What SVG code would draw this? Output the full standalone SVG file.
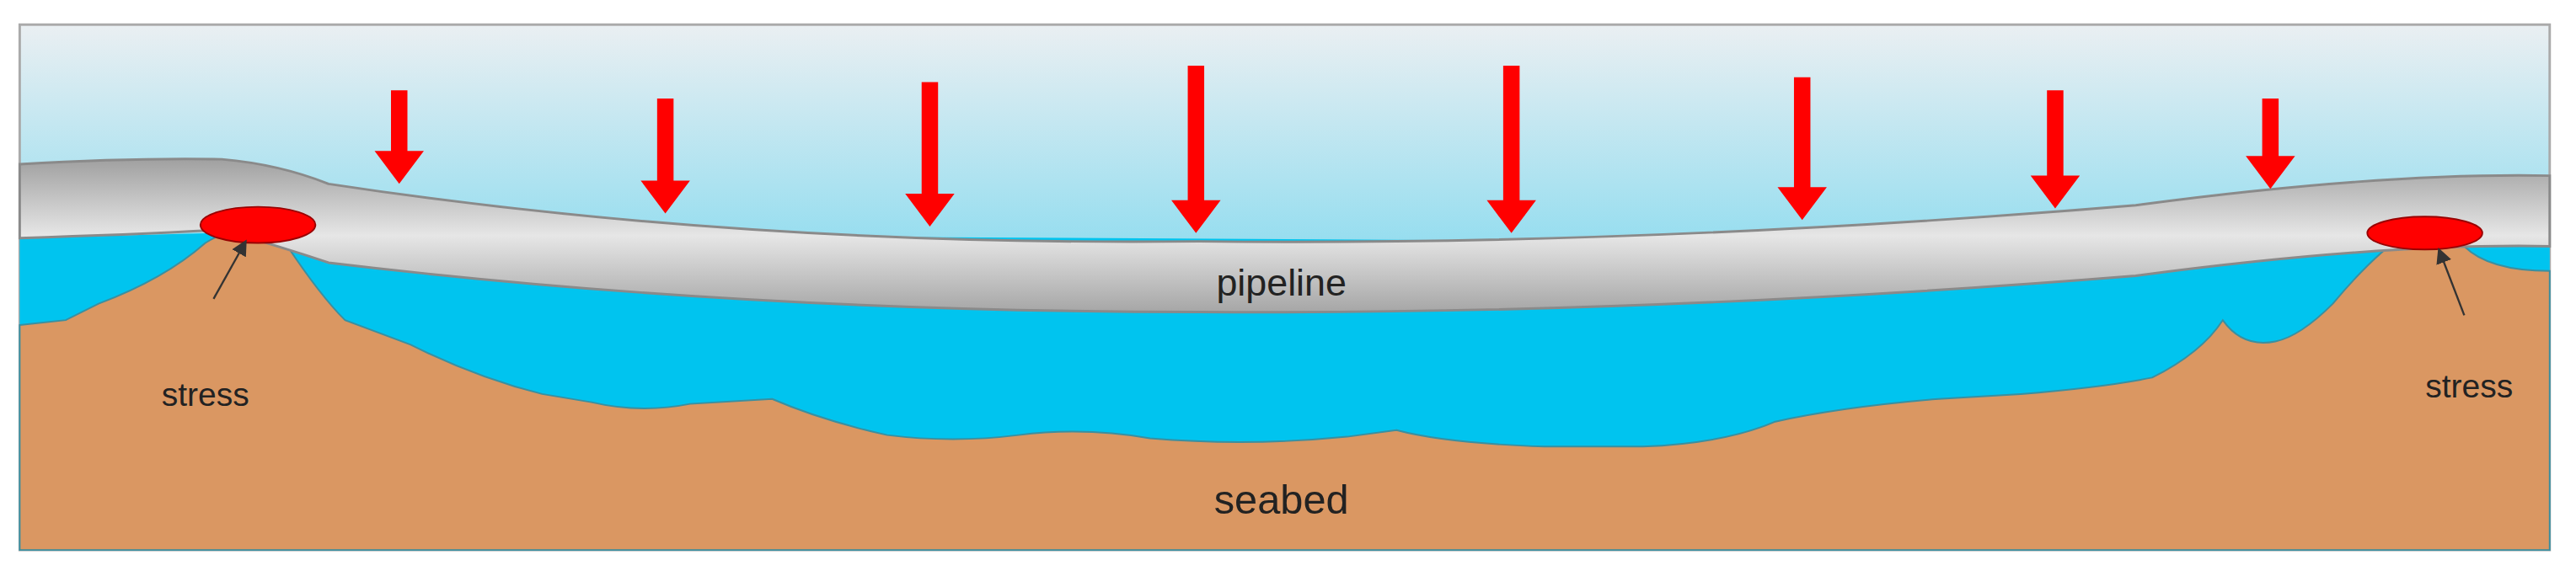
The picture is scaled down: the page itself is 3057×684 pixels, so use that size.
<svg xmlns="http://www.w3.org/2000/svg" width="3057" height="684" viewBox="0 0 3057 684">
<defs>
<linearGradient id="sky" x1="0" y1="0" x2="0" y2="1"><stop offset="0" stop-color="#eaeff2"/><stop offset="0.45" stop-color="#8fdcef"/><stop offset="1" stop-color="#00c3ee"/></linearGradient>
<linearGradient id="pipe" x1="0" y1="0" x2="0" y2="1"><stop offset="0" stop-color="#a0a0a0"/><stop offset="0.5" stop-color="#e6e6e6"/><stop offset="1" stop-color="#a6a6a6"/></linearGradient>
<style>.arr{fill:#f00}.lbl{font-family:"Liberation Sans",Arial,sans-serif;fill:#222;text-anchor:middle}</style>
<marker id="ah" markerWidth="8" markerHeight="8" refX="6" refY="4" orient="auto" markerUnits="strokeWidth"><path d="M0,0 L8,4 L0,8 z" fill="#333"/></marker>
</defs>
<rect width="3057" height="684" fill="#fff"/>
<g transform="scale(1.9496)">
<rect x="12" y="15" width="1540" height="320" fill="url(#sky)" stroke="#aaa" stroke-width="1.5"/>
<path d="M12,145 L130,142 L1552,150 L1552,330 L12,330 z" fill="#00c4ef"/>
<path id="seabed" d="M12,198 L40,195 L60,185 Q100,170 125,148 Q150,132 175,150 Q195,180 210,195 L250,210 Q290,230 330,240 L360,245 Q390,252 420,246 L470,243 Q500,256 540,265 Q580,270 620,265 Q660,260 700,267 Q760,272 820,266 L850,262 Q880,270 940,272 L1000,272 Q1050,270 1080,257 Q1120,248 1180,243 L1230,240 Q1280,236 1310,230 Q1340,215 1353,195 Q1365,212 1385,208 Q1400,205 1420,185 Q1445,155 1465,142 Q1485,136 1500,150 Q1515,165 1552,165 L1552,335 L12,335 z" fill="#da9762" stroke="#3a8fa0" stroke-width="1"/>
<path id="pipeline" d="M12,100 Q80,96 135,97 Q170,100 200,112 Q450,150 730,147 Q1000,150 1300,125 Q1450,105 1552,107 L1552,150 Q1450,148 1300,168 Q1000,192 730,190 Q450,190 200,160 Q170,150 135,140 Q80,143 12,145 z" fill="url(#pipe)" stroke="#8a8a8a" stroke-width="1.5"/>
<g id="arrows">
<path class="arr" d="M238,55h10v37h10l-15,20l-15-20h10z"/>
<path class="arr" d="M400,60h10v50h10l-15,20l-15-20h10z"/>
<path class="arr" d="M561,50h10v68h10l-15,20l-15-20h10z"/>
<path class="arr" d="M723,40h10v82h10l-15,20l-15-20h10z"/>
<path class="arr" d="M915,40h10v82h10l-15,20l-15-20h10z"/>
<path class="arr" d="M1092,47h10v67h10l-15,20l-15-20h10z"/>
<path class="arr" d="M1246,55h10v52h10l-15,20l-15-20h10z"/>
<path class="arr" d="M1377,60h10v35h10l-15,20l-15-20h10z"/>
</g>
<g id="stress-left"><ellipse cx="157" cy="137" rx="35" ry="11" fill="#f00" stroke="#900" stroke-width="1"/>
<line x1="130" y1="182" x2="149" y2="148" stroke="#333" stroke-width="1.2" marker-end="url(#ah)"/>
<text class="lbl" x="125" y="247" font-size="20">stress</text></g>
<g id="stress-right"><ellipse cx="1476" cy="142" rx="35" ry="10" fill="#f00" stroke="#900" stroke-width="1"/>
<line x1="1500" y1="192" x2="1485" y2="153" stroke="#333" stroke-width="1.2" marker-end="url(#ah)"/>
<text class="lbl" x="1503" y="242" font-size="20">stress</text></g>
<text class="lbl" x="780" y="180" font-size="23">pipeline</text>
<text class="lbl" x="780" y="313" font-size="25">seabed</text>
</g>
</svg>
